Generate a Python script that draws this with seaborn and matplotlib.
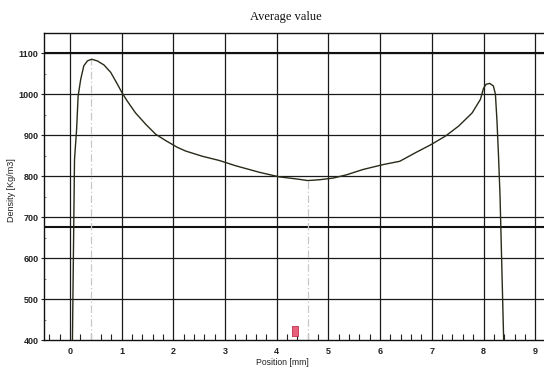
import numpy as np
import pandas as pd
import matplotlib
matplotlib.use("Agg")
import matplotlib.pyplot as plt
import seaborn as sns

# ---- data ----
position = [0.05, 0.07, 0.09, 0.13, 0.16, 0.21, 0.27, 0.34, 0.42, 0.53,
            0.66, 0.79, 0.92, 1.01, 1.11, 1.27, 1.47, 1.66, 1.86, 2.08,
            2.24, 2.57, 2.89, 3.21, 3.67, 4.05, 4.38, 4.60, 4.83, 5.09,
            5.35, 5.67, 6.06, 6.38, 6.70, 6.99, 7.27, 7.52, 7.78, 7.94,
            8.00, 8.05, 8.12, 8.19, 8.23, 8.26, 8.29, 8.32, 8.36, 8.39]
density = [400, 620, 840, 913, 995, 1036, 1069, 1081, 1085, 1081,
           1071, 1053, 1024, 1003, 983, 954, 926, 902, 886, 870,
           861, 848, 838, 825, 809, 798, 793, 789, 791, 795,
           803, 816, 828, 836, 858, 877, 898, 922, 954, 987,
           1014, 1024, 1026, 1020, 1000, 936, 850, 750, 550, 400]

peak_x = [0.40, 4.60]          # grey markers at max / min
peak_y = [1085, 789]
ref_lines = [1100, 675]        # heavy horizontal lines
marker_x = [4.36]
marker_y = [423]

x_ticks = list(range(0, 10))
y_ticks = [400, 500, 600, 700, 800, 900, 1000, 1100]

df = pd.DataFrame({"Position": position, "Density": density})

sns.set_style("white")
plt.rcParams['font.family'] = ['Liberation Sans', 'DejaVu Sans']

fig = plt.figure(figsize=(5.44, 3.67), dpi=100)
ax = fig.add_axes([44 / 544, 1 - 340 / 367, 1 - 44 / 544, (340 - 33) / 367])

ax.set_xlim(-0.5, 9.17)
ax.set_ylim(400, 1149)

# grid
for xv in x_ticks:
    ax.axvline(xv, color="#1a1a1a", lw=0.9, zorder=1)
for yv in y_ticks[1:]:
    ax.axhline(yv, color="#1a1a1a", lw=0.9, zorder=1)
for yv in ref_lines:
    ax.axhline(yv, color="#111111", lw=1.5, zorder=1)

# light grey drop lines
for px, py in zip(peak_x, peak_y):
    ax.vlines(px, 400, py, color="#c8c8c8", lw=0.9, linestyles=(0, (6, 2, 1, 2)), zorder=1.5)

sns.lineplot(data=df, x="Position", y="Density", ax=ax, color="#2a2a1a",
             lw=1.0, estimator=None, sort=False, zorder=3)

ax.plot(marker_x, marker_y, linestyle="none",
        marker=[(-0.55, -1), (0.55, -1), (0.55, 1), (-0.55, 1), (-0.55, -1)],
        markersize=7, markerfacecolor="#e8607a", markeredgecolor="#c03050",
        markeredgewidth=0.6, zorder=4)

# spines
for side in ["left", "bottom", "top"]:
    ax.spines[side].set_visible(True)
    ax.spines[side].set_color("#111111")
    ax.spines[side].set_linewidth(1.0)
ax.spines["right"].set_visible(False)

# ticks
ax.set_xticks(x_ticks)
ax.set_xticklabels([str(v) for v in x_ticks])
ax.set_yticks(y_ticks)
ax.set_yticklabels([str(v) for v in y_ticks])
ax.set_xticks([v for v in np.arange(-0.4, 9.1, 0.2) if abs(v - round(v)) > 1e-6], minor=True)
ax.set_yticks([v for v in range(450, 1150, 100)], minor=True)
ax.tick_params(axis="x", which="major", length=0, pad=5, labelsize=6.5, colors="#222222")
ax.tick_params(axis="x", which="minor", direction="in", length=4, width=0.8, color="#222222", bottom=True)
ax.tick_params(axis="y", which="major", direction="out", length=2, width=0.8, pad=2,
               labelsize=6.5, colors="#222222", left=True)
ax.tick_params(axis="y", which="minor", direction="in", length=1.5, width=0.8, color="#888888", left=True)
for lab in ax.get_xticklabels() + ax.get_yticklabels():
    lab.set_fontweight("bold")

ax.set_xlabel("")
ax.set_ylabel("")
fig.text(282 / 544, 1 - 362.5 / 367, "Position [mm]", ha="center", va="center",
         fontsize=6.2, color="#222222")
fig.text(12 / 544, 1 - 190 / 367, "Density [Kg/m3]", ha="center", va="center",
         rotation=90, fontsize=6.5, color="#222222")
fig.text(286 / 544, 1 - 17 / 367, "Average value", ha="center", va="center",
         fontsize=9, color="#111111", family=["Liberation Serif", "DejaVu Serif"])

fig.savefig("out.png", dpi=100)
